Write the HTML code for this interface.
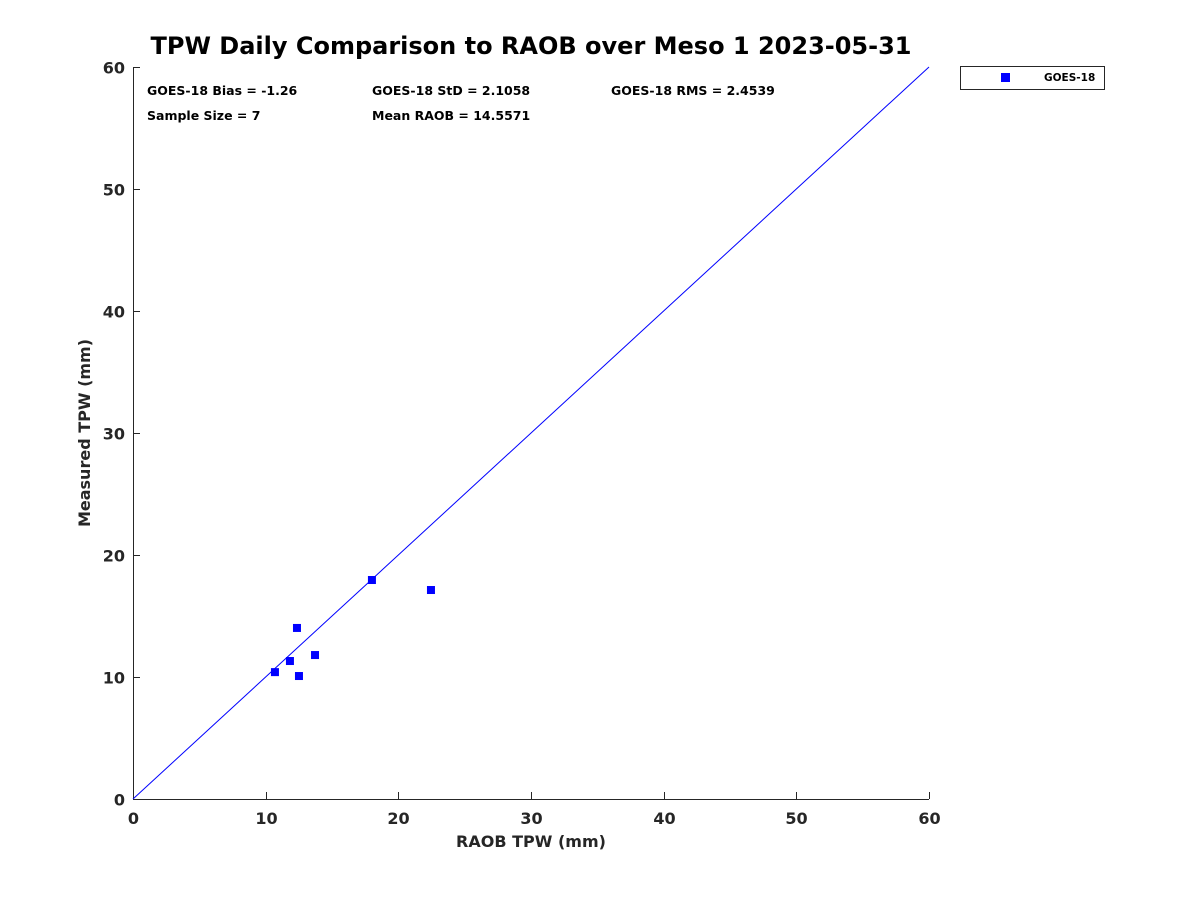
<!DOCTYPE html>
<html><head><meta charset="utf-8"><style>
body{margin:0;background:#fff;}
text{font-family:"DejaVu Sans","Liberation Sans",sans-serif;font-weight:bold;fill:#262626;}
</style></head><body>
<svg id="chart" width="1200" height="900" xmlns="http://www.w3.org/2000/svg">
<rect width="1200" height="900" fill="#fff"/>
<text x="531" y="54" font-size="24" text-anchor="middle" style="fill:#000">TPW Daily Comparison to RAOB over Meso 1 2023-05-31</text>
<g id="axes"></g>
<g id="marks"></g>
<g font-size="12.5">
<text x="147" y="95" style="fill:#000">GOES-18 Bias = -1.26</text>
<text x="372" y="95" style="fill:#000">GOES-18 StD = 2.1058</text>
<text x="611" y="95" style="fill:#000">GOES-18 RMS = 2.4539</text>
<text x="147" y="120" style="fill:#000">Sample Size = 7</text>
<text x="372" y="120" style="fill:#000">Mean RAOB = 14.5571</text>
</g>
<g>
<rect x="960.5" y="66.5" width="144" height="23" fill="#fff" stroke="#262626" stroke-width="1"/>
<rect x="1001" y="73" width="9" height="9" fill="#0000ff"/>
<text x="1044" y="81" font-size="10.5" style="fill:#000">GOES-18</text>
</g>
<text x="531" y="847" font-size="16" text-anchor="middle">RAOB TPW (mm)</text>
<text x="0" y="0" font-size="16" text-anchor="middle" transform="translate(90,433) rotate(-90)">Measured TPW (mm)</text>
</svg>
<script>
const xTicks=[0,10,20,30,40,50,60];
const yTicks=[0,10,20,30,40,50,60];
const raobValues=[10.7,11.83,12.36,12.51,13.72,18.01,22.46];
const measuredValues=[10.4,11.31,14.02,10.08,11.8,17.95,17.13];
const X0=133,X1=929,Y0=799,Y1=67,MIN=0,MAX=60;
const sx=v=>X0+(v-MIN)/(MAX-MIN)*(X1-X0);
const sy=v=>Y0-(v-MIN)/(MAX-MIN)*(Y0-Y1);
const NS='http://www.w3.org/2000/svg';
const axes=document.getElementById('axes'),marks=document.getElementById('marks');
function mk(tag,attrs,parent){const e=document.createElementNS(NS,tag);for(const k in attrs)e.setAttribute(k,attrs[k]);parent.appendChild(e);return e;}
const xa=mk('line',{x1:X0,y1:Y0+.5,x2:X1,y2:Y0+.5,stroke:'#262626'},axes);


const ya=mk('line',{x1:X0+.5,y1:Y0,x2:X0+.5,y2:Y1,stroke:'#262626'},axes);


xTicks.forEach(t=>{
  const x=Math.round(sx(t))+.5;
  mk('line',{x1:x,y1:Y0,x2:x,y2:Y0-7,stroke:'#262626'},axes);
  const tx=mk('text',{x:x,y:Y0+25,'font-size':16,'text-anchor':'middle'},axes);
  tx.textContent=t;
  
  
});
yTicks.forEach(t=>{
  const y=Math.round(sy(t))+.5;
  mk('line',{x1:X0,y1:y,x2:X0+7,y2:y,stroke:'#262626'},axes);
  const tx=mk('text',{x:X0-8,y:y+6,'font-size':16,'text-anchor':'end'},axes);
  tx.textContent=t;
  
  
});
const ref=mk('line',{x1:sx(0),y1:sy(0),x2:sx(60),y2:sy(60),stroke:'#0000ff','stroke-width':1},marks);


raobValues.forEach((v,i)=>{
  const p=mk('rect',{x:sx(v)-4,y:sy(measuredValues[i])-4,width:8,height:8,fill:'#0000ff'},marks);
  
  
});
</script>
</body></html>
